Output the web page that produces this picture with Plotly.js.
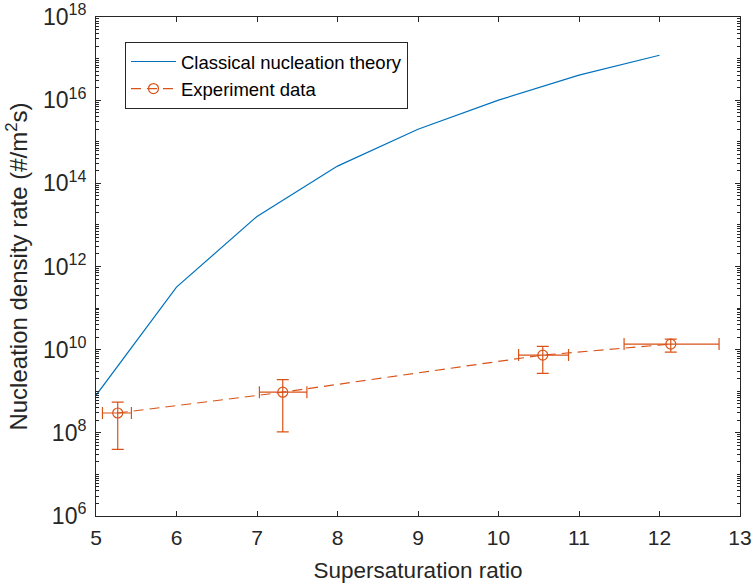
<!DOCTYPE html>
<html>
<head>
<meta charset="utf-8">
<script src="https://cdn.plot.ly/plotly-3.0.1.min.js"></script>
<style>html,body{margin:0;padding:0;background:#fff;}#chart{width:755px;height:583px;}</style>
</head>
<body>
<div id="chart"></div>
<script>
// Classical nucleation theory curve
const cntX = [5, 6, 7, 8, 9, 10, 11, 12];
const cntY = [8e8, 3.2e11, 1.6e13, 2.6e14, 2.0e15, 1.0e16, 4.0e16, 1.2e17];

// Experiment data
const expX = [5.27, 7.32, 10.55, 12.14];
const expY = [3.0e8, 9.5e8, 7.4e9, 1.36e10];
const expYplus = [2.5e8, 0.95e9, 4.6e9, 0.44e10];
const expYminus = [2.6e8, 8.45e8, 4.7e9, 0.49e10];
const expXplus = [0.17, 0.30, 0.32, 0.60];
const expXminus = [0.19, 0.29, 0.30, 0.58];

const xTickVals = [5, 6, 7, 8, 9, 10, 11, 12, 13];
const yTickVals = [1e6, 1e8, 1e10, 1e12, 1e14, 1e16, 1e18];
const yTickText = ['10<sup>6</sup>', '10<sup>8</sup>', '10<sup>10</sup>', '10<sup>12</sup>', '10<sup>14</sup>', '10<sup>16</sup>', '10<sup>18</sup>'];

const blue = '#0072BD';
const orange = '#D95319';
const axisColor = '#262626';

const traces = [
  {
    x: cntX, y: cntY, type: 'scatter', mode: 'lines',
    name: 'Classical nucleation theory',
    line: {color: blue, width: 1.2}
  },
  {
    x: expX, y: expY, type: 'scatter', mode: 'lines+markers',
    name: 'Experiment data',
    line: {color: orange, width: 1.2, dash: '10px,6px'},
    marker: {symbol: 'circle-open', size: 10, color: orange, line: {width: 1.2}},
    error_y: {type: 'data', symmetric: false, array: expYplus, arrayminus: expYminus, color: orange, thickness: 1.2, width: 6},
    error_x: {type: 'data', symmetric: false, array: expXplus, arrayminus: expXminus, color: orange, thickness: 1.2, width: 6}
  }
];

const layout = {
  width: 755, height: 583,
  margin: {l: 96, r: 15, t: 17, b: 67},
  paper_bgcolor: '#fff', plot_bgcolor: '#fff',
  font: {family: 'Liberation Sans, Arial, sans-serif', color: axisColor, size: 19},
  showlegend: true,
  legend: {
    x: 0.045, y: 0.95, xanchor: 'left', yanchor: 'top',
    bordercolor: axisColor, borderwidth: 1, bgcolor: '#fff',
    font: {size: 18.5, color: '#000'}, tracegroupgap: 0, itemwidth: 45
  },
  xaxis: {
    range: [5, 13], tickvals: xTickVals,
    ticks: 'inside', ticklen: 5, tickcolor: axisColor,
    showline: true, linecolor: axisColor, linewidth: 1, mirror: 'ticks',
    showgrid: false, zeroline: false, automargin: false,
    tickfont: {size: 21, color: axisColor}, ticklabelstandoff: 3,
    title: {text: 'Supersaturation ratio', font: {size: 22.5, color: axisColor}, standoff: 14}
  },
  yaxis: {
    type: 'log', range: [6, 18],
    tickvals: yTickVals, ticktext: yTickText,
    ticks: 'inside', ticklen: 5, tickcolor: axisColor,
    minor: {ticks: 'inside', ticklen: 3, tickcolor: axisColor, dtick: 'D1', showgrid: false},
    showline: true, linecolor: axisColor, linewidth: 1, mirror: 'ticks',
    showgrid: false, zeroline: false, automargin: false,
    tickfont: {size: 23, color: axisColor}, ticklabelstandoff: 4,
    title: {text: 'Nucleation density rate (#/m<sup>2</sup>s)', font: {size: 24, color: axisColor}, standoff: 8}
  }
};

Plotly.newPlot('chart', traces, layout, {displayModeBar: false, staticPlot: true});
</script>
</body>
</html>
